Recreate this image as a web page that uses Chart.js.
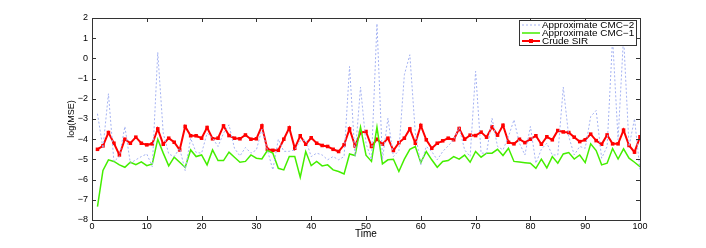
<!DOCTYPE html>
<html>
<head>
<meta charset="utf-8">
<script src="https://cdn.jsdelivr.net/npm/chart.js@4/dist/chart.umd.min.js"></script>
<style>
  html, body { margin: 0; padding: 0; background: #fff; }
  #wrap { width: 706px; height: 248px; }
</style>
</head>
<body>
<div id="wrap"><canvas id="mseChart" width="706" height="248"></canvas></div>
<script>
// time steps
const time = [1,2,3,4,5,6,7,8,9,10,11,12,13,14,15,16,17,18,19,20,
  21,22,23,24,25,26,27,28,29,30,31,32,33,34,35,36,37,38,39,40,
  41,42,43,44,45,46,47,48,49,50,51,52,53,54,55,56,57,58,59,60,
  61,62,63,64,65,66,67,68,69,70,71,72,73,74,75,76,77,78,79,80,
  81,82,83,84,85,86,87,88,89,90,91,92,93,94,95,96,97,98,99,100];

// log(MSE)
const cmc2 = [-2.74,-4.45,-1.75,-5.1,-4.86,-3.37,-5.19,-5.02,-4.86,-4.73,
  -5.36,0.3,-3.7,-4.73,-4.86,-4.45,-5.55,-3.95,-4.66,-4.69,
  -3.7,-3.95,-4.36,-3.7,-3.29,-4.45,-4.83,-4.41,-4.69,-4.53,
  -3.5,-4.53,-5.52,-4.0,-4.6,-4.6,-4.53,-4.08,-4.03,-4.86,
  -4.69,-4.78,-5.02,-4.86,-5.02,-4.86,-0.4,-4.86,-1.42,-4.2,
  -5.02,1.72,-5.02,-2.96,-4.86,-4.56,-0.81,0.18,-3.7,-5.27,
  -4.36,-4.61,-5.02,-4.61,-4.33,-4.03,-3.42,-4.53,-4.86,-0.64,
  -4.69,-4.69,-2.96,-4.36,-4.53,-3.87,-3.04,-4.2,-4.78,-3.37,
  -5.19,-4.5,-4.2,-4.78,-4.78,-1.42,-3.87,-4.78,-4.36,-4.45,
  -2.88,-2.58,-4.94,-4.36,1.0,-4.03,1.1,-4.36,-2.99,-5.52];

const cmc1 = [-7.34,-5.55,-5.02,-5.1,-5.27,-5.39,-5.14,-5.26,-5.12,-5.31,
  -5.22,-4.0,-4.69,-5.32,-4.89,-5.14,-5.4,-4.53,-4.86,-4.78,
  -5.27,-4.53,-5.06,-5.06,-4.64,-4.89,-5.14,-5.1,-4.78,-4.94,
  -4.98,-4.56,-4.69,-5.44,-5.52,-4.86,-4.86,-5.88,-4.61,-5.31,
  -5.1,-5.32,-5.27,-5.52,-5.6,-5.72,-4.73,-4.81,-3.4,-4.79,
  -5.1,-3.4,-5.22,-5.02,-4.99,-5.6,-4.99,-4.5,-4.36,-5.16,
  -4.61,-5.02,-5.39,-5.1,-5.06,-4.86,-4.99,-4.79,-5.14,-4.61,
  -4.89,-4.69,-4.69,-4.5,-4.81,-4.45,-5.1,-5.13,-5.16,-5.19,
  -5.44,-4.99,-5.42,-4.86,-5.19,-4.73,-4.66,-4.98,-4.78,-5.16,
  -4.23,-4.56,-5.27,-5.19,-4.46,-4.98,-4.48,-4.94,-5.14,-5.36];

const crudeSir = [-4.5,-4.33,-3.67,-4.2,-4.78,-4.0,-4.2,-3.9,-4.2,-4.28,
  -4.23,-3.49,-4.25,-3.95,-4.15,-4.53,-3.37,-3.83,-3.83,-3.95,
  -3.42,-3.98,-3.95,-3.34,-3.82,-3.95,-3.98,-3.79,-4.0,-3.98,
  -3.34,-4.5,-4.55,-4.55,-4.0,-3.44,-4.45,-3.83,-4.25,-3.93,
  -4.2,-4.31,-4.36,-4.5,-4.61,-4.28,-3.49,-4.33,-3.67,-3.62,
  -4.36,-4.0,-4.25,-3.95,-4.56,-4.17,-3.95,-3.49,-4.2,-3.32,
  -4.03,-4.45,-4.2,-4.08,-3.95,-4.03,-3.47,-4.0,-3.8,-3.82,
  -3.65,-3.9,-3.39,-3.8,-3.31,-4.15,-4.23,-4.0,-4.17,-4.0,
  -3.83,-4.25,-3.88,-4.03,-3.57,-3.64,-3.67,-3.9,-4.12,-4.03,
  -3.75,-4.07,-4.25,-3.79,-4.23,-4.23,-3.55,-4.31,-4.64,-3.88];

const xTicks = [0,10,20,30,40,50,60,70,80,90,100];
const yTicks = [-8,-7,-6,-5,-4,-3,-2,-1,0,1,2];
const seriesNames = ["Approximate CMC\u22122", "Approximate CMC\u22121", "Crude SIR"];

const FONT = "'Liberation Sans', Arial, Helvetica, sans-serif";
const AXIS_COLOR = "#333";

function pts(ys) {
  return time.map((t, i) => ({ x: t, y: ys[i] }));
}

// box, inward ticks and legend like a matlab figure
const matlabFrame = {
  id: "matlabFrame",
  afterDatasetsDraw(chart) {
    const { ctx, chartArea: a, scales } = chart;
    ctx.save();
    ctx.strokeStyle = AXIS_COLOR;
    ctx.lineWidth = 1;
    ctx.strokeRect(Math.round(a.left) + 0.5, Math.round(a.top) + 0.5,
      Math.round(a.right - a.left), Math.round(a.bottom - a.top));
    ctx.beginPath();
    xTicks.forEach(v => {
      const px = Math.round(scales.x.getPixelForValue(v)) + 0.5;
      ctx.moveTo(px, a.bottom); ctx.lineTo(px, a.bottom - 4);
      ctx.moveTo(px, a.top); ctx.lineTo(px, a.top + 4);
    });
    yTicks.forEach(v => {
      const py = Math.round(scales.y.getPixelForValue(v)) + 0.5;
      ctx.moveTo(a.left, py); ctx.lineTo(a.left + 4, py);
      ctx.moveTo(a.right, py); ctx.lineTo(a.right - 4, py);
    });
    ctx.stroke();

    // legend
    const lx = 519, ly = 20, lw = 117, lh = 25;
    ctx.fillStyle = "#fff";
    ctx.fillRect(lx, ly, lw, lh);
    ctx.strokeStyle = AXIS_COLOR;
    ctx.strokeRect(lx + 0.5, ly + 0.5, lw, lh);
    ctx.font = "9px " + FONT;
    ctx.textBaseline = "middle";
    chart.data.datasets.forEach((ds, i) => {
      const yy = ly + 5 + i * 8;
      ctx.save();
      ctx.strokeStyle = ds.borderColor;
      ctx.lineWidth = ds.borderWidth;
      ctx.setLineDash(ds.borderDash || []);
      ctx.beginPath();
      ctx.moveTo(lx + 3, yy); ctx.lineTo(lx + 21, yy);
      ctx.stroke();
      ctx.restore();
      if (ds.pointRadius > 0) {
        ctx.fillStyle = ds.pointBackgroundColor;
        ctx.fillRect(lx + 10, yy - 2, 4, 4);
      }
      ctx.save();
      ctx.translate(lx + 23, yy + 0.5);
      ctx.scale(1.1, 1);
      ctx.fillStyle = "#000";
      ctx.fillText(ds.label, 0, 0);
      ctx.restore();
    });
    ctx.restore();
  }
};

new Chart(document.getElementById("mseChart").getContext("2d"), {
  type: "line",
  data: {
    datasets: [
      {
        label: seriesNames[0],
        data: pts(cmc2),
        borderColor: "#a4b2f2",
        borderWidth: 1,
        borderDash: [2, 2],
        pointRadius: 0,
        tension: 0
      },
      {
        label: seriesNames[1],
        data: pts(cmc1),
        borderColor: "#44ee00",
        borderWidth: 1.5,
        pointRadius: 0,
        tension: 0
      },
      {
        label: seriesNames[2],
        data: pts(crudeSir),
        borderColor: "#ff0000",
        borderWidth: 2,
        pointStyle: "rect",
        pointRadius: 2.5,
        pointBackgroundColor: "#ff0000",
        pointBorderColor: "#ff0000",
        pointBorderWidth: 0,
        tension: 0
      }
    ]
  },
  options: {
    responsive: false,
    animation: false,
    layout: { padding: { left: 66, right: 66, top: 18, bottom: 0 } },
    plugins: {
      legend: { display: false },
      tooltip: { enabled: false }
    },
    scales: {
      x: {
        type: "linear",
        min: 0,
        max: 100,
        afterFit: s => { s.height = 28; },
        afterBuildTicks: s => { s.ticks = xTicks.map(v => ({ value: v })); },
        grid: { display: false, drawTicks: false, tickLength: 0 },
        border: { display: false },
        ticks: { color: "#000", font: { family: FONT, size: 9 }, padding: 1, maxRotation: 0, autoSkip: false },
        title: { display: true, text: "Time", color: "#000", font: { family: FONT, size: 10 }, padding: { top: 0, bottom: 8 } }
      },
      y: {
        min: -8,
        max: 2,
        afterFit: s => { s.width = 26; },
        afterBuildTicks: s => { s.ticks = yTicks.map(v => ({ value: v })); },
        grid: { display: false, drawTicks: false, tickLength: 0 },
        border: { display: false },
        ticks: {
          color: "#000",
          font: { family: FONT, size: 9 },
          padding: 4,
          autoSkip: false,
          callback: v => v < 0 ? "\u2212" + Math.abs(v) : String(v)
        },
        title: { display: true, text: "log(MSE)", color: "#000", font: { family: FONT, size: 9 }, padding: { top: 0, bottom: 0 } }
      }
    }
  },
  plugins: [matlabFrame]
});
</script>
</body>
</html>
